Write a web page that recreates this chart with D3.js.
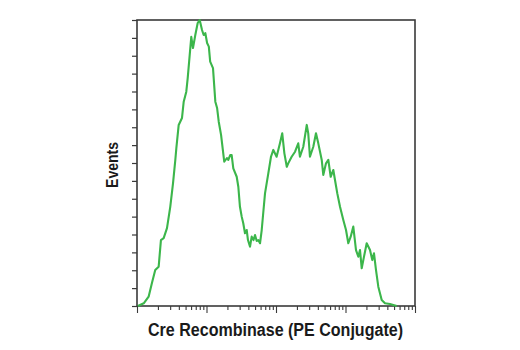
<!DOCTYPE html>
<html>
<head>
<meta charset="utf-8">
<script src="https://cdn.jsdelivr.net/npm/d3@7"></script>
<style>
  html, body { margin: 0; padding: 0; background: #fff; }
  svg { display: block; }
</style>
</head>
<body>
<svg id="chart" width="520" height="350"></svg>
<script>
// Fluorescence intensity (log scale) and event counts of the histogram
const intensity = [
  1.03, 1.25, 1.47, 1.64, 1.83, 2.05, 2.21, 2.42, 2.70, 3.01, 3.30, 3.56, 3.68, 3.98,
  4.44, 4.70, 5.12, 5.36, 5.73, 6.04, 6.39, 6.90, 7.47, 7.98, 8.62, 9.11, 9.61,
  10.2, 10.8, 11.3, 12.4, 13.4, 14.2, 15.0, 16.2, 17.3, 18.0, 19.7, 20.6, 22.0, 23.0,
  24.3, 27.2, 28.7, 30.3, 32.1, 33.8, 35.8, 37.9, 39.5, 42.3, 44.7, 47.5, 49.9, 52.8,
  55.6, 58.9, 62.3, 66.1, 69.5, 77.5, 84.7, 91.5, 102, 114, 123, 132, 143, 150, 168,
  188, 209, 221, 247, 277, 291, 308, 344, 376, 406, 455, 479, 524, 566, 612, 668, 706,
  762, 834, 930, 1017, 1097, 1188, 1295, 1416, 1529, 1617, 1711, 1846, 2018, 2252,
  2430, 2570, 2748, 2965, 3318, 3701, 4368, 4873, 5453
];
const events = [
  0, 1.5, 5.2, 12.9, 20.1, 22.0, 36.9, 38.0, 43.6, 55.5, 68.8, 81.7, 88.2, 101.3,
  105.2, 114.3, 119.9, 127.4, 140.4, 150.6, 144.3, 151.6, 158.3, 160, 154.4, 151.6, 152.7,
  147.1, 145.1, 136.7, 133.1, 114.3, 110.8, 103.1, 95.7, 86.3, 80.7, 82.8, 81.7, 84.5, 84.5,
  77.0, 72.3, 66.7, 55.5, 50.0, 46.3, 40.7, 42.5, 36.9, 33.2, 38.8, 36.9, 39.7, 36.4,
  36.9, 35.1, 42.5, 53.7, 63.0, 74.2, 83.5, 87.3, 83.5, 91.0, 96.6, 85.4, 77.9, 79.8, 83.5,
  86.3, 91.0, 83.5, 89.1, 101.3, 96.6, 83.5, 89.1, 96.6, 91.0, 81.7, 73.3, 79.8, 81.7, 72.3, 76.1, 70.5,
  63.0, 55.5, 48.1, 42.5, 35.1, 38.8, 44.4, 31.3, 27.6, 31.3, 21.1, 27.6, 35.1, 31.3,
  25.7, 29.5, 20.1, 10.8, 3.4, 1.5, 1.1, 0.6, 0
];
const yTicks = d3.range(0, 161, 10);
const xDomain = [1, 10000];
const yDomain = [0, 160];
const xLabel = "Cre Recombinase (PE Conjugate)";
const yLabel = "Events";

const svg = d3.select("#chart");
const plot = { left: 137, right: 415, top: 20, bottom: 306 };

const x = d3.scaleLog().domain(xDomain).range([plot.left, plot.right]);
const y = d3.scaleLinear().domain(yDomain).range([plot.bottom, plot.top]);

const axisColor = "#3a3a3a";

// frame
svg.append("rect")
  .attr("x", plot.left).attr("y", plot.top)
  .attr("width", plot.right - plot.left).attr("height", plot.bottom - plot.top)
  .attr("fill", "none").attr("stroke", axisColor).attr("stroke-width", 1.6);

// left axis ticks
const yAxis = d3.axisLeft(y).tickValues(yTicks).tickSize(5).tickFormat("");
svg.append("g").attr("transform", `translate(${plot.left},0)`).call(yAxis)
  .call(g => g.select(".domain").remove())
  .call(g => g.selectAll("line").attr("stroke", axisColor).attr("stroke-width", 1.2));

// bottom log axis: minor ticks then decade ticks
const allTicks = x.ticks();
const majors = allTicks.filter(v => Math.abs(Math.log10(v) - Math.round(Math.log10(v))) < 1e-9);
const minors = allTicks.filter(v => !majors.includes(v));
const xMinor = d3.axisBottom(x).tickValues(minors).tickSize(4).tickFormat("");
const xMajor = d3.axisBottom(x).tickValues(majors).tickSize(7).tickFormat("");
[xMinor, xMajor].forEach(ax => {
  svg.append("g").attr("transform", `translate(0,${plot.bottom})`).call(ax)
    .call(g => g.select(".domain").remove())
    .call(g => g.selectAll("line").attr("stroke", axisColor).attr("stroke-width", 1.1));
});

// histogram trace
const pts = intensity.map((v, i) => [v, events[i]]);
const line = d3.line().x(d => x(d[0])).y(d => y(d[1])).curve(d3.curveLinear);
svg.append("path")
  .datum(pts)
  .attr("d", line)
  .attr("fill", "none")
  .attr("stroke", "#3cb64b")
  .attr("stroke-width", 2.1)
  .attr("stroke-linejoin", "round");

// axis titles, horizontally condensed bold sans
const titleFont = "'Liberation Sans', Arial, sans-serif";
svg.append("text")
  .attr("transform", "translate(275.5,336) scale(0.845,1)")
  .attr("text-anchor", "middle")
  .attr("font-family", titleFont)
  .attr("font-weight", "bold")
  .attr("font-size", 19)
  .attr("fill", "#1a1a1a")
  .text(xLabel);

svg.append("text")
  .attr("transform", "translate(118,165) rotate(-90) scale(0.85,1)")
  .attr("text-anchor", "middle")
  .attr("font-family", titleFont)
  .attr("font-weight", "bold")
  .attr("font-size", 16.5)
  .attr("fill", "#1a1a1a")
  .text(yLabel);
</script>
</body>
</html>
